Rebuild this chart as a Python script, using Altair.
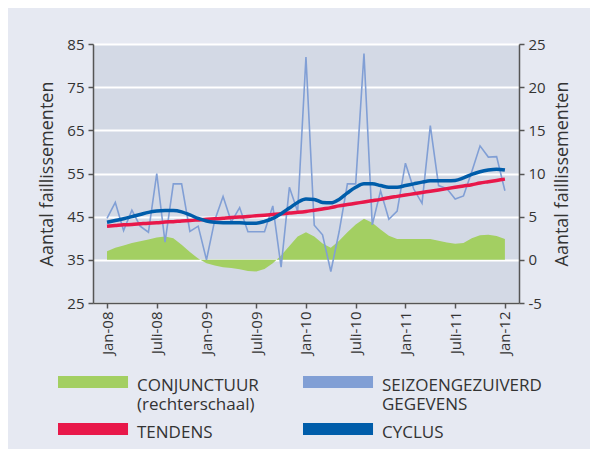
import altair as alt
import pandas as pd

# ---------------- data ----------------
months = list(range(49))  # Jan-08 .. Jan-12, monthly
tick_values = [0, 6, 12, 18, 24, 30, 36, 42, 48]
tick_labels = ["Jan-08", "Juli-08", "Jan-09", "Juli-09", "Jan-10",
               "Juli-10", "Jan-11", "Juli-11", "Jan-12"]

seizoen = [44.6, 48.3, 41.8, 46.5, 42.8, 41.4, 55.0, 39.1, 52.6, 52.6, 41.6, 42.8,
           35.0, 44.2, 49.7, 43.8, 47.1, 41.5, 41.5, 41.5, 47.5, 33.3, 51.8, 46.2,
           82.0, 43.0, 40.8, 32.3, 41.5, 52.6, 52.6, 82.8, 43.1, 51.0, 44.4, 46.3,
           57.4, 51.4, 48.1, 66.1, 52.2, 51.5, 49.1, 49.8, 55.4, 61.4, 58.8, 58.9,
           51.0]

tendens = [42.8, 42.95, 43.1, 43.2, 43.35, 43.5, 43.6, 43.75, 43.85, 44.0, 44.1, 44.25,
           44.4, 44.5, 44.65, 44.8, 44.9, 45.05, 45.2, 45.35, 45.5, 45.65, 45.85, 46.0,
           46.2, 46.5, 46.8, 47.1, 47.5, 47.8, 48.1, 48.4, 48.7, 49.0, 49.4, 49.7,
           50.0, 50.3, 50.6, 50.9, 51.2, 51.5, 51.8, 52.1, 52.4, 52.8, 53.1, 53.4,
           53.7]

cyclus = [43.7, 44.1, 44.5, 45.0, 45.5, 46.0, 46.3, 46.4, 46.4, 46.1, 45.4, 44.6,
          44.0, 43.7, 43.6, 43.6, 43.6, 43.5, 43.5, 43.9, 44.6, 45.7, 47.0, 48.3,
          49.1, 49.0, 48.3, 48.2, 49.0, 50.5, 51.8, 52.6, 52.6, 52.2, 51.8, 51.8,
          52.2, 52.6, 53.0, 53.3, 53.3, 53.3, 53.4, 54.0, 54.8, 55.4, 55.8, 56.0,
          55.8]

conjunctuur = [1.0, 1.4, 1.65, 1.95, 2.15, 2.35, 2.6, 2.7, 2.5, 1.75, 0.9, 0.15,
               -0.4, -0.65, -0.85, -0.95, -1.1, -1.3, -1.35, -1.05, -0.4, 0.5, 1.6, 2.7,
               3.2, 2.7, 1.9, 1.4, 2.2, 3.2, 4.1, 4.75, 4.3, 3.5, 2.8, 2.4,
               2.4, 2.4, 2.4, 2.4, 2.2, 2.0, 1.85, 1.95, 2.5, 2.85, 2.9, 2.75,
               2.4]

series_names = ["CONJUNCTUUR|(rechterschaal)", "SEIZOENGEZUIVERD|GEGEVENS",
                "TENDENS", "CYCLUS"]
series_colors = ["#a3cf62", "#819fd5", "#e8184a", "#005daa"]

# ---------------- tables ----------------
lines_df = pd.DataFrame({
    "month": months * 3,
    "value": seizoen + tendens + cyclus,
    "series": [series_names[1]] * 49 + [series_names[2]] * 49 + [series_names[3]] * 49,
})
conj_df = pd.DataFrame({"month": months, "conj": conjunctuur})

FONT = "Open Sans"
TXT = "#333333"
AX = "#555555"

label_expr = f"{tick_labels}[round(datum.value / 6)]"

x_enc = alt.X(
    "month:Q",
    scale=alt.Scale(domain=[-1.69, 49.7], nice=False, zero=False),
    axis=alt.Axis(values=tick_values, labelExpr=label_expr, labelAngle=270,
                  title=None, grid=False, tickSize=5, labelPadding=3,
                  labelFontSize=15),
)

y_left = alt.Y(
    "value:Q",
    scale=alt.Scale(domain=[25, 85], nice=False, zero=False),
    axis=alt.Axis(orient="left", values=list(range(25, 86, 10)),
                  title="Aantal faillissementen", grid=True, gridColor="white",
                  gridWidth=2, tickSize=5, labelPadding=4, titlePadding=10),
)

y_right = alt.Y(
    "conj:Q",
    scale=alt.Scale(domain=[-5, 25], nice=False, zero=False),
    axis=alt.Axis(orient="right", values=list(range(-5, 26, 5)),
                  labelExpr="datum.value < 0 ? '-' + abs(datum.value) : '' + datum.value",
                  title="Aantal faillissementen", titleAngle=270, titleBaseline="top",
                  grid=False, tickSize=5, labelPadding=4, titlePadding=8),
)

legend = alt.Legend(
    title=None, orient="none", legendX=-41, legendY=322, columns=2,
    direction="horizontal",
    symbolType="M-1,0.68H10.67", symbolSize=144, symbolStrokeWidth=12,
    symbolOpacity=1, labelFont=FONT, labelFontSize=17, labelColor=TXT,
    labelExpr="split(datum.label, '|')", labelBaseline="top", labelOffset=61,
    labelLimit=400, columnPadding=20, rowPadding=-16, padding=0,
)

color_enc = alt.Color(
    "series:N",
    scale=alt.Scale(domain=series_names, range=series_colors),
    legend=legend,
)

area = alt.Chart(conj_df).mark_area(color=series_colors[0], interpolate="linear").encode(
    x=x_enc, y=y_right, y2=alt.datum(0),
)

base = alt.Chart(lines_df)


def line_layer(name, width, interp):
    return base.transform_filter(alt.datum.series == name).mark_line(
        interpolate=interp
    ).encode(
        x=x_enc, y=y_left, color=color_enc,
        strokeWidth=alt.value(width),
    )


lines = alt.layer(
    line_layer(series_names[1], 1.6, "linear"),
    line_layer(series_names[2], 3.5, "monotone"),
    line_layer(series_names[3], 3.5, "monotone"),
)

chart = alt.layer(area, lines).resolve_scale(y="independent").properties(
    width=426, height=259,
    autosize=alt.AutoSizeParams(type="none"),
    padding={"left": 85, "top": 36, "right": 71, "bottom": 146},
    background="#e6e9f2",
).configure_view(
    fill="#d3d9e5", stroke=None,
).configure_axis(
    labelFont=FONT, labelFontSize=15, labelColor=TXT,
    titleFont=FONT, titleFontSize=18, titleFontWeight="normal", titleColor=TXT,
    domainColor=AX, domainWidth=1.5, tickColor=AX, tickWidth=1.5,
)

chart.save("out.html", embed_options={"renderer": "svg", "actions": False})
